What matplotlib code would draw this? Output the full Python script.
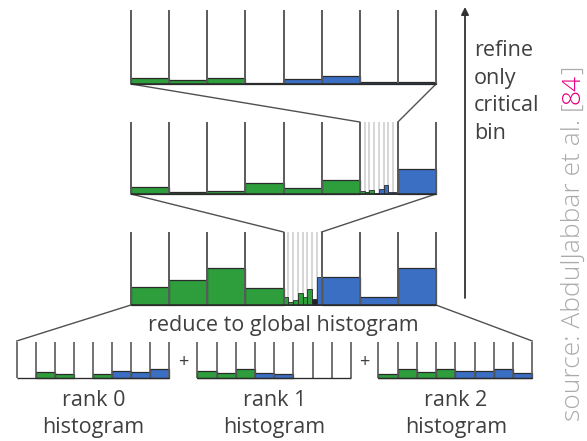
import matplotlib
matplotlib.use("Agg")
import matplotlib.pyplot as plt

W, H = 587, 441

# bin heights per histogram; side: g = below target, b = above, k = pivot bin,
# r = refined bin (drawn with the fine values), - = empty
top_vals = [6, 4, 6, 1, 5, 8, 2.5, 2]
top_side = list("gggkbbbb")
mid_vals = [7, 2, 3, 11, 6, 14, 0, 25]
mid_side = list("ggggggrb")
mid_fine_vals = [3.5, 2.5, 4, 1, 5, 9, 2.5, 2]
mid_fine_side = list("gggkbbbb")
glob_vals = [18, 25, 37, 17, 0, 28, 8, 37]
glob_side = list("ggggrbbb")
glob_fine_vals = [8, 3, 5, 12, 8, 16, 6, 28]
glob_fine_side = list("ggggggkb")
rank0_vals = [0, 5.5, 4, 0, 3.5, 7, 6, 8.5]
rank0_side = list("-gg-gbbb")
rank1_vals = [7, 5, 8.5, 4.5, 3.5, 0, 0, 0]
rank1_side = list("gggbb---")
rank2_vals = [3.5, 8.5, 6, 8.5, 6.5, 6.5, 8.5, 4.5]
rank2_side = list("ggggbbbb")

rank_labels = ["rank 0\nhistogram", "rank 1\nhistogram", "rank 2\nhistogram"]
reduce_label = "reduce to global histogram"
refine_label = "refine\nonly\ncritical\nbin"
source_parts = [("source: AbdulJabbar et al. [", "#ababab"), ("84", "#e6007e"), ("]", "#ababab")]

COLORS = {"g": "#2e9e3c", "b": "#3a6fc4", "k": "#222222"}
WALL = "#5a5a5a"
EDGE = "#2b2b2b"
TXT = "#404040"
FONT = ["Open Sans", "DejaVu Sans"]


def bin_edges(x0, x1, n):
    w = (x1 - x0) / n
    return [x0 + w * i for i in range(n + 1)], w


def draw_fine(ax, x0, x1, base, top, vals, side):
    edges, w = bin_edges(x0, x1, len(vals))
    ax.vlines(edges[1:-1], top, base, color="#cccccc", lw=1.1, zorder=1)
    for e, v, s in zip(edges, vals, side):
        ax.bar(e, -v, width=w, bottom=base, align="edge", color=COLORS[s],
               edgecolor=EDGE, lw=0.6, zorder=2)


def draw_hist(ax, x0, x1, base, top, vals, side, fine=None, lw=1.4):
    edges, w = bin_edges(x0, x1, len(vals))
    for e, v, s in zip(edges, vals, side):
        if s == "r" and fine is not None:
            draw_fine(ax, e, e + w, base, top, *fine)
        elif s in COLORS and v > 0:
            ax.bar(e, -v, width=w, bottom=base, align="edge", color=COLORS[s],
                   edgecolor=EDGE, lw=0.9, zorder=2)
    ax.vlines(edges, top, base, color=WALL, lw=lw, zorder=3)
    ax.hlines(base, x0, x1, color=EDGE, lw=lw * 0.8, zorder=3)
    return edges


fig = plt.figure(figsize=(W / 100, H / 100), dpi=100)
ax = fig.add_axes([0, 0, 1, 1])
ax.set_xlim(0, W)
ax.set_ylim(H, 0)
ax.axis("off")

# main histograms (global, refined once, refined twice)
top_e = draw_hist(ax, 131, 436, 84, 10, top_vals, top_side)
mid_e = draw_hist(ax, 131, 436, 194, 122, mid_vals, mid_side,
                  fine=(mid_fine_vals, mid_fine_side))
glob_e = draw_hist(ax, 131, 436, 305, 232, glob_vals, glob_side,
                   fine=(glob_fine_vals, glob_fine_side))

# per-rank histograms
r0 = draw_hist(ax, 16.7, 169.3, 377.7, 342, rank0_vals, rank0_side, lw=1.2)
r1 = draw_hist(ax, 197.3, 351, 377.7, 342, rank1_vals, rank1_side, lw=1.2)
r2 = draw_hist(ax, 378.3, 532.3, 377.7, 342, rank2_vals, rank2_side, lw=1.2)

# zoom connectors
conn = dict(color="#505050", lw=1.0, zorder=1)
k = mid_side.index("r")
ax.plot([top_e[0], mid_e[k]], [84, 122], **conn)
ax.plot([top_e[-1], mid_e[k + 1]], [84, 122], **conn)
k = glob_side.index("r")
ax.plot([mid_e[0], glob_e[k]], [194, 232], **conn)
ax.plot([mid_e[-1], glob_e[k + 1]], [194, 232], **conn)
ax.plot([glob_e[0], r0[0]], [305, 341], **conn)
ax.plot([glob_e[-1], r2[-1]], [305, 341], **conn)

# plus signs between ranks
for a, b in [(r0, r1), (r1, r2)]:
    ax.text((a[-1] + b[0]) / 2, 362, "+", ha="center", va="center",
            fontsize=13, color=TXT, family=FONT)

# labels
ax.text(283, 326, reduce_label, ha="center", va="center", fontsize=15.5,
        color=TXT, family=FONT)
for edges, lab in zip([r0, r1, r2], rank_labels):
    ax.text((edges[0] + edges[-1]) / 2 + 0.5, 414, lab, ha="center", va="center",
            fontsize=15.5, color=TXT, family=FONT, linespacing=1.36)

ax.text(474, 92, refine_label, ha="left", va="center", fontsize=15.5,
        color=TXT, family=FONT, linespacing=1.4)

# refinement arrow
ax.annotate("", xy=(465, 7), xytext=(465, 298),
            arrowprops=dict(arrowstyle="-|>", color="#333333", lw=1.3,
                            mutation_scale=11, shrinkA=0, shrinkB=0))

# rotated source note, pieced together so the citation can be coloured
fig.canvas.draw()
renderer = fig.canvas.get_renderer()
y = 421
for s, c in source_parts:
    t = ax.text(573, y, s, rotation=90, rotation_mode="anchor", ha="left",
                va="center", fontsize=19, color=c, family=FONT, fontweight="light")
    bb = t.get_window_extent(renderer)
    y -= bb.height

fig.savefig("out.png", dpi=100)
